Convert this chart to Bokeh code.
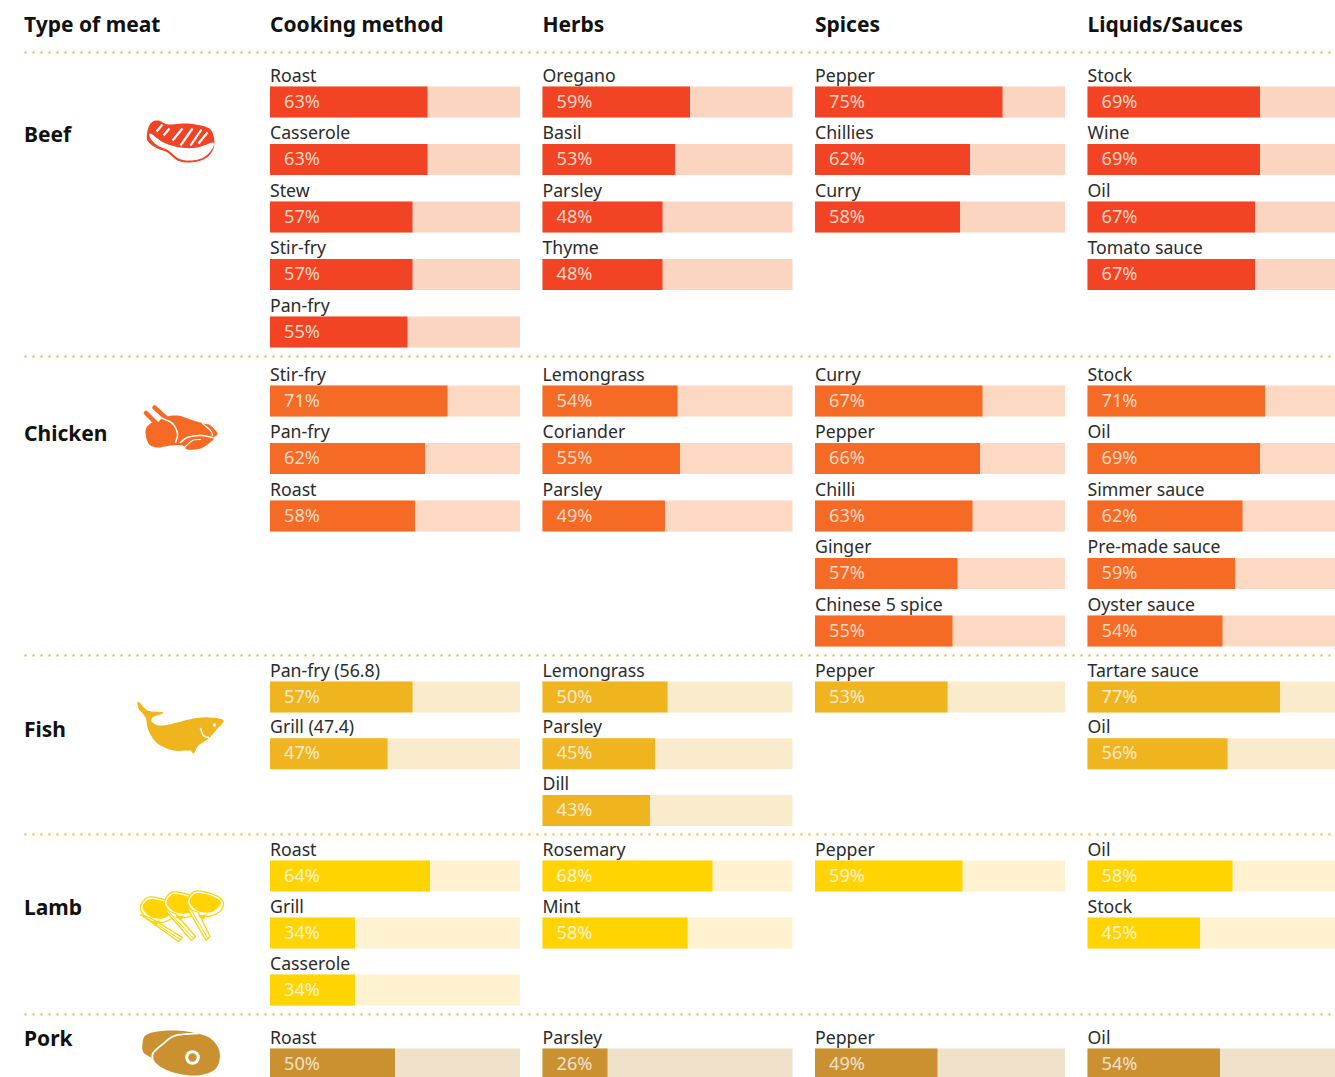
from bokeh.embed import file_html
from bokeh.resources import INLINE
from bokeh.plotting import figure
from bokeh.models import Range1d
from bokeh.core.properties import value

# ---------- data ----------
headers = ["Type of meat", "Cooking method", "Herbs", "Spices", "Liquids/Sauces"]
meats = ["Beef", "Chicken", "Fish", "Lamb", "Pork"]

beef_method = [("Roast", 63), ("Casserole", 63), ("Stew", 57), ("Stir-fry", 57), ("Pan-fry", 55)]
beef_herbs = [("Oregano", 59), ("Basil", 53), ("Parsley", 48), ("Thyme", 48)]
beef_spices = [("Pepper", 75), ("Chillies", 62), ("Curry", 58)]
beef_liquids = [("Stock", 69), ("Wine", 69), ("Oil", 67), ("Tomato sauce", 67)]

chicken_method = [("Stir-fry", 71), ("Pan-fry", 62), ("Roast", 58)]
chicken_herbs = [("Lemongrass", 54), ("Coriander", 55), ("Parsley", 49)]
chicken_spices = [("Curry", 67), ("Pepper", 66), ("Chilli", 63), ("Ginger", 57), ("Chinese 5 spice", 55)]
chicken_liquids = [("Stock", 71), ("Oil", 69), ("Simmer sauce", 62), ("Pre-made sauce", 59), ("Oyster sauce", 54)]

fish_method = [("Pan-fry (56.8)", 57), ("Grill (47.4)", 47)]
fish_herbs = [("Lemongrass", 50), ("Parsley", 45), ("Dill", 43)]
fish_spices = [("Pepper", 53)]
fish_liquids = [("Tartare sauce", 77), ("Oil", 56)]

lamb_method = [("Roast", 64), ("Grill", 34), ("Casserole", 34)]
lamb_herbs = [("Rosemary", 68), ("Mint", 58)]
lamb_spices = [("Pepper", 59)]
lamb_liquids = [("Oil", 58), ("Stock", 45)]

pork_method = [("Roast", 50)]
pork_herbs = [("Parsley", 26)]
pork_spices = [("Pepper", 49)]
# the drawn bar for this one is a little shorter than its printed label
pork_liquids = [("Oil", 54, 53)]

table = [
    [beef_method, beef_herbs, beef_spices, beef_liquids],
    [chicken_method, chicken_herbs, chicken_spices, chicken_liquids],
    [fish_method, fish_herbs, fish_spices, fish_liquids],
    [lamb_method, lamb_herbs, lamb_spices, lamb_liquids],
    [pork_method, pork_herbs, pork_spices, pork_liquids],
]

# ---------- layout / style ----------
PAGE_W, PAGE_H = 1335, 1077
FONT = "Noto Sans"
col_x = [269.5, 542, 814.5, 1087]
col_px_per_pct = 2.5
first_bar_top = [86, 385, 681, 860, 1048]
bar_pitch = [57.5, 57.5, 56.7, 57, 57]
bar_h = 31
rule_y = [52, 356, 655, 834, 1014]
meat_y = [133.5, 432.5, 728.5, 906.5, 1037.5]
bar_col = ["#f24324", "#f56a24", "#f0b41f", "#ffd400", "#cb9130"]
track_col = ["#fcd5c0", "#fdd8c2", "#fbebcd", "#fff2d0", "#f0e1cb"]
ink = "#2b2b2b"

p = figure(width=PAGE_W, height=PAGE_H, output_backend="svg", toolbar_location=None,
           x_range=Range1d(0, PAGE_W), y_range=Range1d(PAGE_H, 0),
           min_border=0, outline_line_color=None, background_fill_color="white")
p.xaxis.visible = False
p.yaxis.visible = False
p.grid.visible = False

for y in rule_y:
    p.line([24, PAGE_W], [y, y], line_color="#f6b62c", line_width=2, line_dash="2 6")

hdr_x = [23.5] + col_x
p.text(hdr_x, [23] * 5, text=headers, text_font=value(FONT), text_font_style="bold",
       text_font_size="21px", text_color="#111111", text_baseline="middle")
p.text([23.5] * 5, meat_y, text=meats, text_font=value(FONT), text_font_style="bold",
       text_font_size="21px", text_color="#111111", text_baseline="middle")

for m, row in enumerate(table):
    for c, items in enumerate(row):
        x0 = col_x[c]
        tops = [first_bar_top[m] + bar_pitch[m] * i for i in range(len(items))]
        pct = [it[1] for it in items]
        drawn = [it[-1] for it in items]
        names = [it[0] for it in items]
        bottoms = [min(t + bar_h, PAGE_H) for t in tops]
        lefts = [x0] * len(items)
        track_right = [min(x0 + 100 * col_px_per_pct, PAGE_W)] * len(items)
        rights = [x0 + v * col_px_per_pct for v in drawn]
        p.quad(left=lefts, right=track_right, top=tops, bottom=bottoms,
               fill_color=track_col[m], line_color=None)
        p.quad(left=lefts, right=rights, top=tops, bottom=bottoms,
               fill_color=bar_col[m], line_color=None)
        p.text([x0] * len(items), [t - 12 for t in tops], text=names, text_font=value(FONT),
               text_font_size="17.7px", text_color=ink, text_baseline="middle")
        p.text([x0 + 14] * len(items), [t + 14 for t in tops], text=[f"{v}%" for v in pct],
               text_font=value(FONT), text_font_size="18.2px", text_color=track_col[m],
               text_baseline="middle")


# ---------- icons (decorative outlines, drawn in page pixels) ----------
def smooth(pts, n=8, closed=True):
    out = []
    N = len(pts)
    rng = range(N) if closed else range(N - 1)
    for i in rng:
        if closed:
            p0, p1, p2, p3 = pts[(i - 1) % N], pts[i], pts[(i + 1) % N], pts[(i + 2) % N]
        else:
            p0, p1, p2, p3 = pts[max(i - 1, 0)], pts[i], pts[i + 1], pts[min(i + 2, N - 1)]
        for k in range(n):
            t = k / n
            f = lambda a, b, c, d: 0.5 * (2 * b + (c - a) * t + (2 * a - 5 * b + 4 * c - d) * t * t
                                          + (3 * b - a - 3 * c + d) * t ** 3)
            out.append((f(p0[0], p1[0], p2[0], p3[0]), f(p0[1], p1[1], p2[1], p3[1])))
    if not closed:
        out.append(pts[-1])
    return out


def blob(pts, color, **kw):
    s = smooth(pts)
    p.patch([a for a, _ in s], [b for _, b in s], fill_color=color, line_color=None, **kw)


def curve(pts, color, w):
    s = smooth(pts, closed=False)
    p.line([a for a, _ in s], [b for _, b in s], line_color=color, line_width=w,
           line_cap="round", line_join="round")


# beef
c = bar_col[0]
blob([(147, 130), (151, 122), (158, 120), (168, 124), (187, 123), (207, 127), (213, 135), (213, 148),
      (205, 158), (190, 162), (177, 160), (167, 152), (155, 147), (147, 140)], c)
blob([(150, 133), (163, 142), (180, 147), (197, 147), (212, 142), (212, 148), (203, 157), (190, 160),
      (178, 158), (168, 150), (157, 145), (150, 138)], "white")
for a, b, d, e in [(156, 131, 162, 124), (163, 135, 169, 128), (172, 140, 182, 128), (180, 145, 192, 128),
                   (190, 145, 201, 129), (198, 143, 207, 132)]:
    p.line([a, d], [b, e], line_color="white", line_width=2.2)

# chicken
c = bar_col[1]
curve([(145.5, 412.5), (156, 423)], c, 4.5)
curve([(154, 407), (165, 417)], c, 4.5)
blob([(145, 430), (150, 423), (157, 422), (163, 417), (177, 415), (193, 420), (203, 423), (210, 425), (217, 433),
      (213, 437), (212, 440), (200, 448), (187, 449), (182, 445), (170, 445), (157, 447), (148, 443)], c)
curve([(162, 418), (172, 423), (177, 433), (175, 442)], "white", 1.5)
curve([(180, 442), (187, 437), (200, 435), (212, 437)], "white", 1.5)
curve([(183, 448), (192, 440), (200, 439)], "white", 1.2)
curve([(202, 423), (210, 430), (212, 435)], "white", 1.2)

# fish
c = bar_col[2]
blob([(138, 701), (147, 710), (163, 712), (152, 717), (152, 722), (163, 725), (193, 718), (210, 717), (223, 720),
      (217, 728), (208, 738), (198, 745), (193, 753), (189, 750), (173, 750), (157, 743), (148, 730), (145, 717),
      (138, 708)], c)
curve([(200, 728), (203, 735), (208, 737)], "white", 1.5)
p.scatter([214], [724.5], size=3.5, fill_color="white", line_color=None)

# lamb
c = bar_col[3]
for ox, oy, sx, sy in [(-47, 6, 181, 941), (-23, 1, 194, 940), (0, 0, 208.5, 940)]:
    neck_x, neck_y = 191 + ox, 910 + oy
    s = smooth([(187 + ox, 900 + oy), (194 + ox, 891 + oy), (207 + ox, 892 + oy), (219 + ox, 897 + oy),
                (223 + ox, 904 + oy), (218 + ox, 912 + oy), (207 + ox, 916 + oy), (197 + ox, 914 + oy),
                (190 + ox, 908 + oy)])
    p.patch([a for a, _ in s], [b for _, b in s], fill_color="white", line_color=c, line_width=1.3)
    p.patch([neck_x - 4, sx - 3, sx + 1, neck_x + 7], [neck_y - 2, sy, sy - 4, neck_y + 2],
            fill_color="white", line_color=c, line_width=1.3)
    p.line([neck_x, sx - 1], [neck_y, sy - 2], line_color=c, line_width=1)
    blob([(189 + ox, 901 + oy), (195 + ox, 893 + oy), (207 + ox, 894 + oy), (218 + ox, 899 + oy),
          (220 + ox, 904 + oy), (212 + ox, 911 + oy), (203 + ox, 912 + oy), (195 + ox, 909 + oy)], c)
    p.patch([197 + ox, 207 + ox, 203 + ox], [915 + oy, 914 + oy, 919 + oy], fill_color=c, line_color=None)

# pork
c = bar_col[4]
blob([(142, 1043), (145, 1035), (157, 1031), (177, 1030), (197, 1033), (210, 1038), (218, 1048), (219, 1060),
      (213, 1070), (197, 1075), (177, 1073), (163, 1068), (155, 1062), (152, 1058), (143, 1052)], c)
curve([(152, 1058), (153, 1052), (163, 1043), (175, 1035), (197, 1033)], "white", 1.8)
p.circle([192], [1057], radius=7.3, fill_color="white", line_color=None)
p.circle([192], [1057], radius=4.2, fill_color=c, line_color=None)

open("out.html", "w").write(file_html(p, INLINE))
